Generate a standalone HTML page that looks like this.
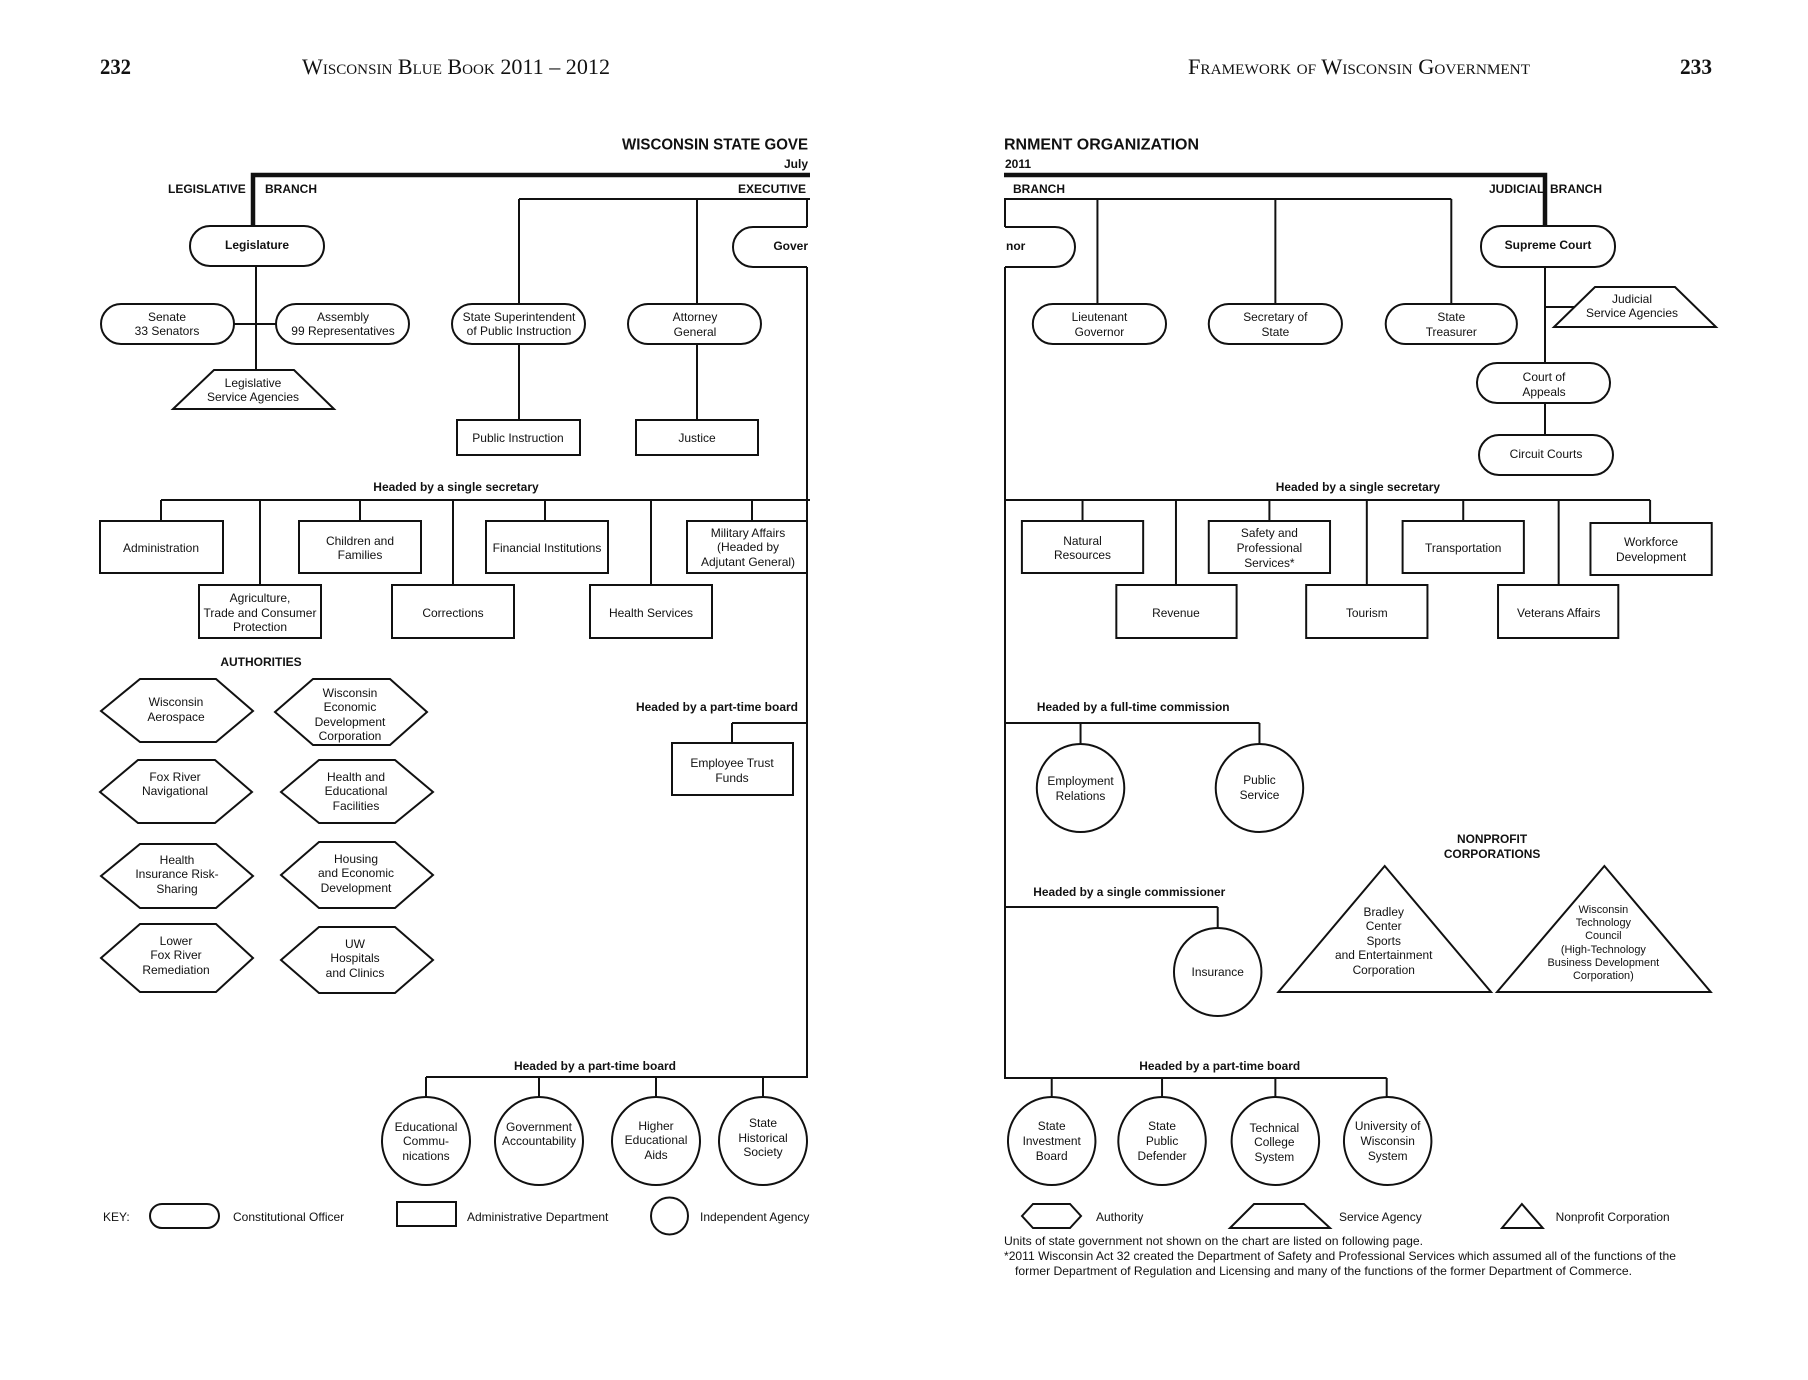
<!DOCTYPE html>
<html>
<head>
<meta charset="utf-8">
<style>
html,body{margin:0;padding:0;background:#fff;}
svg{display:block;}
.t{font-family:"Liberation Sans",Arial,sans-serif;font-size:12px;fill:#111;text-anchor:middle;dominant-baseline:central;}
.b{font-family:"Liberation Sans",Arial,sans-serif;font-size:12px;font-weight:bold;fill:#111;text-anchor:middle;dominant-baseline:central;}
.s{font-family:"Liberation Sans",Arial,sans-serif;font-size:11px;fill:#111;text-anchor:middle;dominant-baseline:central;}
.l{font-family:"Liberation Sans",Arial,sans-serif;font-size:12px;fill:#111;dominant-baseline:central;}
.lb{font-family:"Liberation Sans",Arial,sans-serif;font-size:12px;font-weight:bold;fill:#111;dominant-baseline:central;}
.hd{font-family:"Liberation Serif","Times New Roman",serif;font-size:22px;fill:#111;font-variant:small-caps;}
.pn{font-family:"Liberation Serif","Times New Roman",serif;font-size:22px;font-weight:bold;fill:#111;}
.tt{font-family:"Liberation Sans",Arial,sans-serif;font-size:16px;font-weight:bold;fill:#111;dominant-baseline:central;}
.sh{fill:#fff;stroke:#111;stroke-width:2;}
.ln{fill:none;stroke:#111;stroke-width:2;}
.th{fill:none;stroke:#111;stroke-width:4.5;}
</style>
</head>
<body>
<svg width="1808" height="1380" viewBox="0 0 1808 1380" xmlns="http://www.w3.org/2000/svg">
<rect x="0" y="0" width="1808" height="1380" fill="#fff"/>

<!-- Page headers -->
<text class="pn" x="100" y="74" textLength="31" lengthAdjust="spacingAndGlyphs">232</text>
<text class="hd" x="302" y="74" textLength="308" lengthAdjust="spacingAndGlyphs">Wisconsin Blue Book 2011 – 2012</text>
<text class="hd" x="1188" y="74" textLength="342" lengthAdjust="spacingAndGlyphs">Framework of Wisconsin Government</text>
<text class="pn" x="1680" y="74" textLength="32" lengthAdjust="spacingAndGlyphs">233</text>

<!-- Titles -->
<text class="tt" x="622" y="145" textLength="186" lengthAdjust="spacingAndGlyphs">WISCONSIN STATE GOVE</text>
<text class="lb" x="808" y="164" style="text-anchor:end">July</text>
<text class="tt" x="1004" y="145" textLength="195" lengthAdjust="spacingAndGlyphs">RNMENT ORGANIZATION</text>
<text class="lb" x="1005" y="164">2011</text>

<!-- Branch labels -->
<text class="lb" x="168" y="189">LEGISLATIVE</text>
<text class="lb" x="265" y="189">BRANCH</text>
<text class="lb" x="738" y="189">EXECUTIVE</text>
<text class="lb" x="1013" y="189">BRANCH</text>
<text class="lb" x="1489" y="189">JUDICIAL</text>
<text class="lb" x="1550" y="189">BRANCH</text>

<!-- Thick lines -->
<polyline class="th" points="253,227 253,175 810,175"/>
<polyline class="th" points="1004,175 1545,175 1545,227"/>

<!-- LEFT PAGE connectors -->
<path class="ln" d="M519,199 H810 M519,199 V304 M697,199 V304 M807,199 V227 M807,267 V1078"/>
<path class="ln" d="M256,266 V370 M234,324 H276"/>
<path class="ln" d="M519,344 V420 M697,344 V420"/>
<path class="ln" d="M161,500 H810 M161,500 V521 M260,500 V585 M360,500 V521 M453,500 V585 M545,500 V521 M651,500 V585 M752,500 V521"/>
<path class="ln" d="M732,723 H807 M732,723 V743"/>
<path class="ln" d="M426,1077 H807 M426,1077 V1097 M539,1077 V1097 M656,1077 V1097 M763,1077 V1097"/>

<!-- RIGHT PAGE connectors (zoom-9 derived) -->
<path class="ln" d="M1005,199 V227 M1005,267 V1079"/>
<path class="ln" d="M1545,267 V363 M1545,307 H1575 M1545,403 V435"/>

<!-- LEFT PAGE shapes -->
<rect class="sh" x="190" y="226" width="134" height="40" rx="20"/>
<text class="b" x="257" y="245">Legislature</text>

<path class="sh" d="M807,227 H753 A20,20 0 0 0 753,267 H807"/>
<text class="lb" x="808" y="246" style="text-anchor:end">Gover</text>

<rect class="sh" x="101" y="304" width="133" height="40" rx="20"/>
<text class="t" x="167" y="317">Senate</text><text class="t" x="167" y="331">33 Senators</text>
<rect class="sh" x="276" y="304" width="133" height="40" rx="20"/>
<text class="t" x="343" y="317">Assembly</text><text class="t" x="343" y="331">99 Representatives</text>

<polygon class="sh" points="214,370 294,370 334,409 173,409"/>
<text class="t" x="253" y="383">Legislative</text><text class="t" x="253" y="397">Service Agencies</text>

<rect class="sh" x="452" y="304" width="133" height="40" rx="20"/>
<text class="t" x="519" y="317">State Superintendent</text><text class="t" x="519" y="331">of Public Instruction</text>
<rect class="sh" x="628" y="304" width="133" height="40" rx="20"/>
<text class="t" x="695" y="317">Attorney</text><text class="t" x="695" y="332">General</text>

<rect class="sh" x="457" y="420" width="123" height="35"/>
<text class="t" x="518" y="438">Public Instruction</text>
<rect class="sh" x="636" y="420" width="122" height="35"/>
<text class="t" x="697" y="438">Justice</text>

<text class="b" x="456" y="487">Headed by a single secretary</text>

<rect class="sh" x="100" y="521" width="123" height="52"/>
<text class="t" x="161" y="548">Administration</text>
<rect class="sh" x="299" y="521" width="122" height="52"/>
<text class="t" x="360" y="541">Children and</text><text class="t" x="360" y="555">Families</text>
<rect class="sh" x="486" y="521" width="122" height="52"/>
<text class="t" x="547" y="548">Financial Institutions</text>
<rect class="sh" x="687" y="521" width="120" height="52"/>
<text class="t" x="748" y="533">Military Affairs</text><text class="t" x="748" y="547">(Headed by</text><text class="t" x="748" y="562">Adjutant General)</text>

<rect class="sh" x="199" y="585" width="122" height="53"/>
<text class="t" x="260" y="598">Agriculture,</text><text class="t" x="260" y="613">Trade and Consumer</text><text class="t" x="260" y="627">Protection</text>
<rect class="sh" x="392" y="585" width="122" height="53"/>
<text class="t" x="453" y="613">Corrections</text>
<rect class="sh" x="590" y="585" width="122" height="53"/>
<text class="t" x="651" y="613">Health Services</text>

<!-- Authorities -->
<text class="b" x="261" y="662">AUTHORITIES</text>

<polygon class="sh" points="101,711 140,679 216,679 253,711 216,742 140,742"/>
<text class="t" x="176" y="702">Wisconsin</text><text class="t" x="176" y="717">Aerospace</text>

<polygon class="sh" points="275,712 313,679 390,679 427,712 390,745 313,745"/>
<text class="t" x="350" y="693">Wisconsin</text><text class="t" x="350" y="707">Economic</text><text class="t" x="350" y="722">Development</text><text class="t" x="350" y="736">Corporation</text>

<polygon class="sh" points="100,792 138,760 215,760 252,792 215,823 138,823"/>
<text class="t" x="175" y="777">Fox River</text><text class="t" x="175" y="791">Navigational</text>

<polygon class="sh" points="281,792 319,760 395,760 433,792 395,823 319,823"/>
<text class="t" x="356" y="777">Health and</text><text class="t" x="356" y="791">Educational</text><text class="t" x="356" y="806">Facilities</text>

<polygon class="sh" points="101,876 140,844 216,844 253,876 216,908 140,908"/>
<text class="t" x="177" y="860">Health</text><text class="t" x="177" y="874">Insurance Risk-</text><text class="t" x="177" y="889">Sharing</text>

<polygon class="sh" points="281,875 319,842 395,842 433,875 395,908 319,908"/>
<text class="t" x="356" y="859">Housing</text><text class="t" x="356" y="873">and Economic</text><text class="t" x="356" y="888">Development</text>

<polygon class="sh" points="101,958 140,924 216,924 253,958 216,992 140,992"/>
<text class="t" x="176" y="941">Lower</text><text class="t" x="176" y="955">Fox River</text><text class="t" x="176" y="970">Remediation</text>

<polygon class="sh" points="281,960 319,927 395,927 433,960 395,993 319,993"/>
<text class="t" x="355" y="944">UW</text><text class="t" x="355" y="958">Hospitals</text><text class="t" x="355" y="973">and Clinics</text>

<!-- Part-time board (ETF) -->
<text class="b" x="717" y="707">Headed by a part-time board</text>
<rect class="sh" x="672" y="743" width="121" height="52"/>
<text class="t" x="732" y="763">Employee Trust</text><text class="t" x="732" y="778">Funds</text>

<!-- bottom left board -->
<text class="b" x="595" y="1066">Headed by a part-time board</text>
<circle class="sh" cx="426" cy="1141" r="44"/>
<text class="t" x="426" y="1127">Educational</text><text class="t" x="426" y="1141">Commu-</text><text class="t" x="426" y="1156">nications</text>
<circle class="sh" cx="539" cy="1141" r="44"/>
<text class="t" x="539" y="1127">Government</text><text class="t" x="539" y="1141">Accountability</text>
<circle class="sh" cx="656" cy="1141" r="44"/>
<text class="t" x="656" y="1126">Higher</text><text class="t" x="656" y="1140">Educational</text><text class="t" x="656" y="1155">Aids</text>
<circle class="sh" cx="763" cy="1141" r="44"/>
<text class="t" x="763" y="1123">State</text><text class="t" x="763" y="1138">Historical</text><text class="t" x="763" y="1152">Society</text>

<!-- KEY left -->
<text class="l" x="103" y="1217">KEY:</text>
<rect class="sh" x="150" y="1204" width="69" height="24" rx="12"/>
<text class="l" x="233" y="1217">Constitutional Officer</text>
<rect class="sh" x="397" y="1202" width="59" height="24"/>
<text class="l" x="467" y="1217">Administrative Department</text>
<circle class="sh" cx="669.5" cy="1216" r="18.5"/>
<text class="l" x="700" y="1217">Independent Agency</text>

<!-- RIGHT PAGE, zoom-9/10 derived (unscaled) -->
<path class="sh" d="M1005,227 H1055 A20,20 0 0 1 1055,267 H1005"/>
<text class="lb" x="1006" y="246">nor</text>

<rect class="sh" x="1481" y="226" width="134" height="41" rx="20"/>
<text class="b" x="1548" y="245">Supreme Court</text>

<polygon class="sh" points="1595,287 1675,287 1716,327 1554,327"/>
<text class="t" x="1632" y="299">Judicial</text><text class="t" x="1632" y="313">Service Agencies</text>

<rect class="sh" x="1477" y="363" width="133" height="40" rx="20"/>
<text class="t" x="1544" y="377">Court of</text><text class="t" x="1544" y="392">Appeals</text>
<rect class="sh" x="1479" y="435" width="134" height="40" rx="20"/>
<text class="t" x="1546" y="454">Circuit Courts</text>

<polygon class="sh" points="1022,1216 1033,1204 1070,1204 1081,1216 1070,1228 1033,1228"/>
<text class="l" x="1096" y="1217">Authority</text>
<polygon class="sh" points="1254,1204 1304,1204 1330,1228 1230,1228"/>
<text class="l" x="1339" y="1217">Service Agency</text>

<text class="l" x="1004" y="1241" textLength="419" lengthAdjust="spacingAndGlyphs">Units of state government not shown on the chart are listed on following page.</text>
<text class="l" x="1004" y="1256" textLength="672" lengthAdjust="spacingAndGlyphs">*2011 Wisconsin Act 32 created the Department of Safety and Professional Services which assumed all of the functions of the</text>
<text class="l" x="1015" y="1271" textLength="617" lengthAdjust="spacingAndGlyphs">former Department of Regulation and Licensing and many of the functions of the former Department of Commerce.</text>

<!-- RIGHT PAGE, zoom-2/4 derived (slightly compressed) -->
<g transform="translate(1005 0) scale(0.994 1) translate(-1005 0)">
<path class="ln" d="M1004,199 H1454 M1098,199 V304 M1277,199 V304 M1454,199 V304"/>
<path class="ln" d="M1005,500 H1654 M1083,500 V521 M1177,500 V585 M1271,500 V521 M1369,500 V585 M1466,500 V521 M1562,500 V585 M1654,500 V523"/>
<path class="ln" d="M1005,723 H1261 M1081,723 V744 M1261,723 V744"/>
<path class="ln" d="M1005,907 H1219 M1219,907 V928"/>
<path class="ln" d="M1005,1078 H1389 M1052,1078 V1097 M1163,1078 V1097 M1277,1078 V1097 M1389,1078 V1097"/>

<rect class="sh" x="1033" y="304" width="134" height="40" rx="20"/>
<text class="t" x="1100" y="317">Lieutenant</text><text class="t" x="1100" y="332">Governor</text>
<rect class="sh" x="1210" y="304" width="134" height="40" rx="20"/>
<text class="t" x="1277" y="317">Secretary of</text><text class="t" x="1277" y="332">State</text>
<rect class="sh" x="1388" y="304" width="132" height="40" rx="20"/>
<text class="t" x="1454" y="317">State</text><text class="t" x="1454" y="332">Treasurer</text>

<text class="b" x="1360" y="487">Headed by a single secretary</text>

<rect class="sh" x="1022" y="521" width="122" height="52"/>
<text class="t" x="1083" y="541">Natural</text><text class="t" x="1083" y="555">Resources</text>
<rect class="sh" x="1210" y="521" width="122" height="52"/>
<text class="t" x="1271" y="533">Safety and</text><text class="t" x="1271" y="548">Professional</text><text class="t" x="1271" y="563">Services*</text>
<rect class="sh" x="1405" y="521" width="122" height="52"/>
<text class="t" x="1466" y="548">Transportation</text>
<rect class="sh" x="1594" y="523" width="122" height="52"/>
<text class="t" x="1655" y="542">Workforce</text><text class="t" x="1655" y="557">Development</text>

<rect class="sh" x="1117" y="585" width="121" height="53"/>
<text class="t" x="1177" y="613">Revenue</text>
<rect class="sh" x="1308" y="585" width="122" height="53"/>
<text class="t" x="1369" y="613">Tourism</text>
<rect class="sh" x="1501" y="585" width="121" height="53"/>
<text class="t" x="1562" y="613">Veterans Affairs</text>

<text class="b" x="1134" y="707">Headed by a full-time commission</text>
<circle class="sh" cx="1081" cy="788" r="44"/>
<text class="t" x="1081" y="781">Employment</text><text class="t" x="1081" y="796">Relations</text>
<circle class="sh" cx="1261" cy="788" r="44"/>
<text class="t" x="1261" y="780">Public</text><text class="t" x="1261" y="795">Service</text>

<text class="b" x="1495" y="839">NONPROFIT</text>
<text class="b" x="1495" y="854">CORPORATIONS</text>

<text class="b" x="1130" y="892">Headed by a single commissioner</text>
<circle class="sh" cx="1219" cy="972" r="44"/>
<text class="t" x="1219" y="972">Insurance</text>

<polygon class="sh" points="1387,866 1494,992 1280,992"/>
<text class="t" x="1386" y="912">Bradley</text><text class="t" x="1386" y="926">Center</text><text class="t" x="1386" y="941">Sports</text><text class="t" x="1386" y="955">and Entertainment</text><text class="t" x="1386" y="970">Corporation</text>

<polygon class="sh" points="1608,866 1715,992 1500,992"/>
<text class="s" x="1607" y="910">Wisconsin</text><text class="s" x="1607" y="923">Technology</text><text class="s" x="1607" y="936">Council</text><text class="s" x="1607" y="950">(High-Technology</text><text class="s" x="1607" y="963">Business Development</text><text class="s" x="1607" y="976">Corporation)</text>

<text class="b" x="1221" y="1066">Headed by a part-time board</text>
<circle class="sh" cx="1052" cy="1141" r="44"/>
<text class="t" x="1052" y="1126">State</text><text class="t" x="1052" y="1141">Investment</text><text class="t" x="1052" y="1156">Board</text>
<circle class="sh" cx="1163" cy="1141" r="44"/>
<text class="t" x="1163" y="1126">State</text><text class="t" x="1163" y="1141">Public</text><text class="t" x="1163" y="1156">Defender</text>
<circle class="sh" cx="1277" cy="1141" r="44"/>
<text class="t" x="1276" y="1128">Technical</text><text class="t" x="1276" y="1142">College</text><text class="t" x="1276" y="1157">System</text>
<circle class="sh" cx="1390" cy="1141" r="44"/>
<text class="t" x="1390" y="1126">University of</text><text class="t" x="1390" y="1141">Wisconsin</text><text class="t" x="1390" y="1156">System</text>

<polygon class="sh" points="1525,1204 1546,1228 1505,1228"/>
<text class="l" x="1559" y="1217">Nonprofit Corporation</text>
</g>
</svg>
</body>
</html>
